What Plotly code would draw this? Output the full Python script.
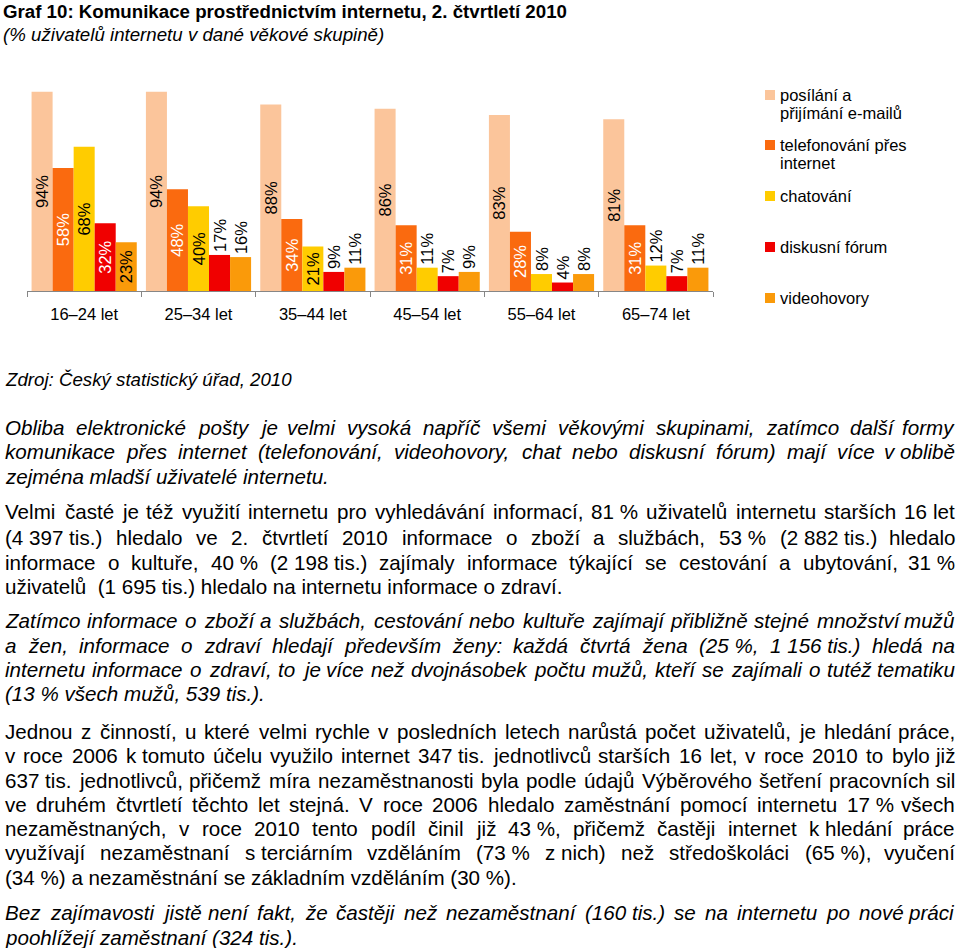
import re
import plotly.graph_objects as go

# ---------------- data ----------------
categories = ["16–24 let", "25–34 let", "35–44 let", "45–54 let", "55–64 let", "65–74 let"]
series_names = ["posílání a přijímání e-mailů", "telefonování přes internet", "chatování",
                "diskusní fórum", "videohovory"]
legend_lines = [["posílání a", "přijímání e-mailů"], ["telefonování přes", "internet"],
                ["chatování"], ["diskusní fórum"], ["videohovory"]]
email = [94, 94, 88, 86, 83, 81]
telefon = [58, 48, 34, 31, 28, 31]
chat = [68, 40, 21, 11, 8, 12]
forum = [32, 17, 9, 7, 4, 7]
video = [23, 16, 11, 9, 8, 11]
series_values = [email, telefon, chat, forum, video]

title = "Graf 10: Komunikace prostřednictvím internetu, 2. čtvrtletí 2010"
subtitle = "(% uživatelů internetu v dané věkové skupině)"
source = "Zdroj: Český statistický úřad, 2010"

NB = "\u00a0"
paragraphs = [
    (True, ["Obliba elektronické pošty je velmi vysoká napříč všemi věkovými skupinami, zatímco další formy",
            "komunikace přes internet (telefonování, videohovory, chat nebo diskusní fórum) mají více v" + NB + "oblibě",
            "zejména mladší uživatelé internetu."]),
    (False, ["Velmi časté je též využití internetu pro vyhledávání informací, 81 % uživatelů internetu starších 16 let",
             "(4 397 tis.) hledalo ve 2. čtvrtletí 2010 informace o zboží a službách, 53 % (2 882 tis.) hledalo",
             "informace o kultuře, 40 % (2 198 tis.) zajímaly informace týkající se cestování a ubytování, 31 %",
             "uživatelů  (1 695 tis.) hledalo na internetu informace o zdraví."]),
    (True, ["Zatímco informace o zboží a službách, cestování nebo kultuře zajímají přibližně stejné množství mužů",
            "a žen, informace o zdraví hledají především ženy: každá čtvrtá žena (25 %, 1 156 tis.) hledá na",
            "internetu informace o zdraví, to je více než dvojnásobek počtu mužů, kteří se zajímali o tutéž tematiku",
            "(13 % všech mužů, 539 tis.)."]),
    (False, ["Jednou z činností, u které velmi rychle v posledních letech narůstá počet uživatelů, je hledání práce,",
             "v roce 2006 k" + NB + "tomuto účelu využilo internet 347 tis. jednotlivců starších 16 let, v roce 2010 to bylo již",
             "637 tis. jednotlivců, přičemž míra nezaměstnanosti byla podle údajů Výběrového šetření pracovních sil",
             "ve druhém čtvrtletí těchto let stejná. V roce 2006 hledalo zaměstnání pomocí internetu 17 % všech",
             "nezaměstnaných, v roce 2010 tento podíl činil již 43 %, přičemž častěji internet k" + NB + "hledání práce",
             "využívají nezaměstnaní s" + NB + "terciárním vzděláním (73 % z" + NB + "nich) než středoškoláci (65 %), vyučení",
             "(34 %) a nezaměstnání se základním vzděláním (30 %)."]),
    (True, ["Bez zajímavosti jistě není fakt, že častěji než nezaměstnaní (160 tis.) se na internetu po nové práci",
            "poohlížejí zaměstnaní (324 tis.)."]),
]

# ---------------- styles ----------------
W, H = 960, 948
FONT = "Liberation Sans, Arial, sans-serif"
colors = ["#FBC59B", "#FA6A0F", "#FFCC00", "#F00000", "#FA9A0A"]
inside_text_colors = ["black", "white", "black", "white", "black"]
INSIDE_MIN = 20
BODY_FS = 20.6
LEFT, RIGHT = 4, 956

# Arial / Liberation Sans advance widths (1/1000 em)
AW = {" ": 278, NB: 278, "(": 333, ")": 333, ",": 278, "-": 333, ".": 278, ":": 278, "%": 889}
for d in "0123456789":
    AW[d] = 556
AW.update(dict(zip("ABCDEFGHIJKLMNOPQRSTUVWXYZ",
                   [667, 667, 722, 722, 667, 611, 778, 722, 278, 500, 667, 556, 833, 722, 778, 667,
                    778, 722, 667, 611, 722, 667, 944, 667, 667, 611])))
AW.update(dict(zip("abcdefghijklmnopqrstuvwxyz",
                   [556, 556, 500, 556, 556, 278, 556, 556, 222, 222, 500, 222, 833, 556, 556, 556,
                    556, 333, 500, 278, 556, 500, 722, 500, 500, 500])))
AW.update({"á": 556, "é": 556, "ě": 556, "í": 278, "ó": 556, "ú": 556, "ů": 556, "ý": 500,
           "č": 500, "ř": 333, "š": 500, "ž": 500, "ň": 556, "ť": 278, "ď": 556,
           "Č": 722, "Š": 667, "Ž": 611, "Ř": 722})


def tw(s, fs):
    return sum(AW.get(ch, 556) for ch in s) / 1000.0 * fs


def px_x(x):
    return x / W


def px_y(y):
    return 1 - y / H


def protect(line):
    # non-breaking spaces inside numbers / before % / before "tis."
    return re.sub(r"(\d) (?=\d|%|tis)", "\\1" + NB, line)


fig = go.Figure()
for name, vals, col, tcol in zip(series_names, series_values, colors, inside_text_colors):
    positions = ["inside" if v >= INSIDE_MIN else "outside" for v in vals]
    fig.add_trace(go.Bar(
        x=categories, y=vals, name=name,
        marker=dict(color=col, line=dict(width=0)),
        text=[f"{v}%" for v in vals],
        textposition=positions,
        textangle=-90,
        insidetextanchor="middle",
        constraintext="none",
        insidetextfont=dict(color=tcol, size=16.5, family=FONT),
        outsidetextfont=dict(color="black", size=16.5, family=FONT),
        cliponaxis=False,
        showlegend=False,
    ))

annotations = []
shapes = []


def add_text(txt, xpx, ypx, fs, anchor="left", bold=False, italic=False):
    if italic:
        txt = f"<i>{txt}</i>"
    if bold:
        txt = f"<b>{txt}</b>"
    annotations.append(dict(text=txt, x=px_x(xpx), y=px_y(ypx), xref="paper", yref="paper",
                            xanchor=anchor, yanchor="middle", showarrow=False, borderpad=0,
                            font=dict(size=fs, family=FONT, color="black")))


# title & subtitle
add_text(title, 2, 12, 18.7, bold=True)
add_text(subtitle, 2, 34, 18.7, italic=True)

# manual legend
legend_y = [95, 145, 196, 247, 298]
for lines, col, ly in zip(legend_lines, colors, legend_y):
    shapes.append(dict(type="rect", xref="paper", yref="paper",
                       x0=px_x(765), x1=px_x(775), y0=px_y(ly - 5), y1=px_y(ly + 5),
                       fillcolor=col, line=dict(width=0)))
    for k, ln in enumerate(lines):
        add_text(ln, 779, ly + 18 * k, 16.5)

# source
add_text(source, LEFT, 379, 18.7, italic=True)

# body text (justified lines placed word by word)
line_y = [[427, 452, 476], [512, 537, 562, 586], [620, 645, 669, 693],
          [731, 755, 780, 804, 828, 852, 877], [912, 937]]
for (italic, lines), ys in zip(paragraphs, line_y):
    for i, (ln, yy) in enumerate(zip(lines, ys)):
        last = i == len(lines) - 1
        if last:
            add_text(ln, LEFT, yy, BODY_FS, italic=italic)
            continue
        tokens = protect(ln).split(" ")
        widths = [tw(t, BODY_FS) for t in tokens]
        gap = (RIGHT - LEFT - sum(widths)) / (len(tokens) - 1)
        gap = max(gap, 0.2 * BODY_FS)
        x = LEFT
        for j, (t, w) in enumerate(zip(tokens, widths)):
            if j == len(tokens) - 1:
                add_text(t, RIGHT, yy, BODY_FS, anchor="right", italic=italic)
            else:
                add_text(t, x, yy, BODY_FS, italic=italic)
            x += w + gap

fig.update_layout(
    width=W, height=H,
    margin=dict(l=0, r=0, t=0, b=0),
    paper_bgcolor="white", plot_bgcolor="white",
    barmode="group", bargap=0.08, bargroupgap=0,
    xaxis=dict(domain=[px_x(27), px_x(713)], type="category",
               showline=True, linecolor="#868686", linewidth=1,
               ticks="outside", tickson="boundaries", ticklen=5, tickcolor="#868686",
               tickfont=dict(size=16.5, family=FONT, color="black"),
               ticklabelstandoff=8, showgrid=False, zeroline=False, fixedrange=True),
    yaxis=dict(domain=[px_y(291), px_y(79)], range=[0, 100], visible=False,
               showgrid=False, zeroline=False, fixedrange=True),
    annotations=annotations, shapes=shapes,
    showlegend=False,
)

fig.write_html("out.html", config={"displayModeBar": False},
               post_script="document.body.style.margin='0';document.body.style.overflow='hidden';")
